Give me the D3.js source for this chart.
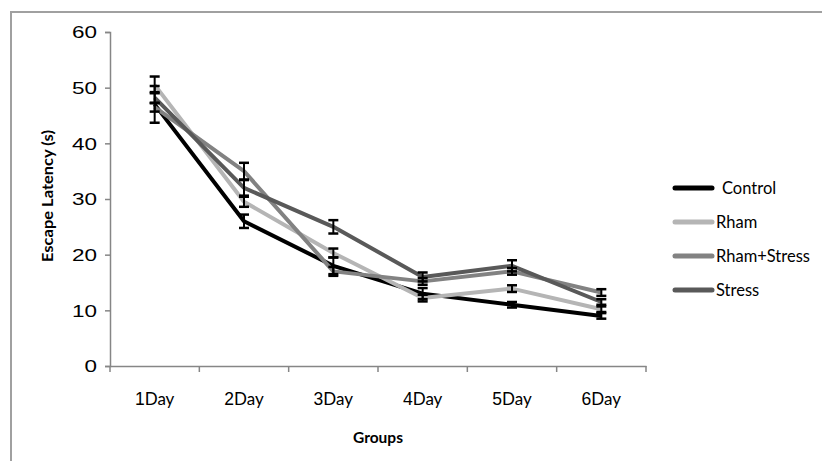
<!DOCTYPE html>
<html><head><meta charset="utf-8">
<script src="https://cdn.jsdelivr.net/npm/d3@7"></script>
<style>body{margin:0;background:#fff}svg{display:block}</style>
</head><body>
<svg id="c" width="822" height="461"></svg>
<script>
const days = ["1","2","3","4","5","6"];
const seriesNames = ["Control","Rham","Rham+Stress","Stress"];
const controlVals = [47, 26, 18, 13, 11, 9];
const rhamVals = [50.5, 29.5, 20.3, 12.2, 13.9, 10.2];
const rhamStressVals = [46.5, 35, 17, 15.2, 17, 13.2];
const stressVals = [48.2, 32, 25, 16, 18, 11.5];
const controlErr = [3.3, 1.2, 1.5, 1.0, 0.5, 0.5];
const rhamErr = [1.5, 0.9, 0.8, 0.6, 0.6, 0.5];
const rhamStressErr = [0.8, 1.5, 0.8, 0.6, 0.6, 0.6];
const stressErr = [1.0, 1.4, 1.2, 0.8, 1.0, 0.5];
const yTicks = [0,10,20,30,40,50,60];

const series = [
  {name: seriesNames[0], vals: controlVals, err: controlErr, color: "#000000"},
  {name: seriesNames[1], vals: rhamVals, err: rhamErr, color: "#b5b5b5"},
  {name: seriesNames[2], vals: rhamStressVals, err: rhamStressErr, color: "#828282"},
  {name: seriesNames[3], vals: stressVals, err: stressErr, color: "#595959"}
];

const ARIAL = "'Liberation Sans', Arial, sans-serif";
const CAL = "Lato, 'Open Sans', sans-serif";

const svg = d3.select("#c");
// frame
svg.append("rect").attr("x",11).attr("y",12).attr("width",900).attr("height",600)
  .attr("fill","none").attr("stroke","#a0a0a0").attr("stroke-width",2);

const x = d3.scaleBand().domain(days).range([110,646]);
const y = d3.scaleLinear().domain([0,60]).range([366,32]);

// y axis
const ya = svg.append("g").attr("transform","translate(110,0)")
  .call(d3.axisLeft(y).tickValues(yTicks).tickSize(5).tickPadding(8));
ya.select(".domain").attr("stroke","#868686").attr("stroke-width",1.5);
ya.selectAll(".tick line").attr("stroke","#868686").attr("stroke-width",1.5);
ya.selectAll(".tick text").style("font-family",ARIAL).style("font-size","16.5px").attr("fill","#000")
  .attr("dy","0.36em")
  .attr("textLength",d=>String(d).length*12.5).attr("lengthAdjust","spacingAndGlyphs");

// x axis
const xa = svg.append("g").attr("transform","translate(0,366)")
  .call(d3.axisBottom(x).tickSize(0).tickFormat(""));
xa.select(".domain").attr("stroke","#868686").attr("stroke-width",1.5);
const bounds = days.map(d=>x(d)).concat([x.range()[1]]);
xa.selectAll("line.sep").data(bounds).enter().append("line").attr("class","sep")
  .attr("x1",d=>d).attr("x2",d=>d).attr("y1",0).attr("y2",6)
  .attr("stroke","#868686").attr("stroke-width",1.5);
const xl = svg.append("g").selectAll("text").data(days).enter().append("text")
  .attr("x",d=>x(d)+x.bandwidth()/2).attr("y",405).attr("text-anchor","middle").attr("fill","#000");
xl.append("tspan").style("font-family",ARIAL).style("font-size","17.5px").text(d=>d);
xl.append("tspan").style("font-family",CAL).style("font-size","17px").text("Day");

svg.append("text").attr("x",378).attr("y",443).attr("text-anchor","middle")
  .style("font-family",CAL).style("font-weight","bold").style("font-size","15.5px")
  .text("Groups");
svg.append("text").attr("transform","translate(53,196) rotate(-90)").attr("text-anchor","middle")
  .style("font-family",CAL).style("font-weight","bold").style("font-size","15.5px")
  .attr("textLength",132).attr("lengthAdjust","spacingAndGlyphs")
  .text("Escape Latency (s)");

const cx = d => x(d)+x.bandwidth()/2;
const line = d3.line().x((v,i)=>cx(days[i])).y(v=>y(v));
const g = svg.append("g");
series.forEach(s=>{
  g.append("path").attr("d",line(s.vals)).attr("fill","none")
    .attr("stroke",s.color).attr("stroke-width",4).attr("stroke-linejoin","round");
});
// error bars
series.forEach(s=>{
  const eb = g.append("g");
  s.vals.forEach((v,i)=>{
    const px = cx(days[i]);
    eb.append("line").attr("x1",px).attr("x2",px).attr("y1",y(v+s.err[i])).attr("y2",y(v-s.err[i]))
      .attr("stroke","#000").attr("stroke-width",2);
    [v+s.err[i], v-s.err[i]].forEach(e=>{
      eb.append("line").attr("x1",px-5).attr("x2",px+5).attr("y1",y(e)).attr("y2",y(e))
        .attr("stroke","#000").attr("stroke-width",2.5);
    });
  });
});

// legend
const lg = svg.append("g");
const legendY = d3.scalePoint().domain(seriesNames).range([188,290]);
series.forEach((s,i)=>{
  const ly = legendY(s.name);
  lg.append("line").attr("x1",675).attr("x2",712).attr("y1",ly).attr("y2",ly)
    .attr("stroke",s.color).attr("stroke-width",5).attr("stroke-linecap","round");
  lg.append("text").attr("x", i===0 ? 722 : 716).attr("y",ly+6)
    .style("font-family",CAL).style("font-size","16.5px").attr("fill","#000")
    .text(s.name);
});
</script>
</body></html>
